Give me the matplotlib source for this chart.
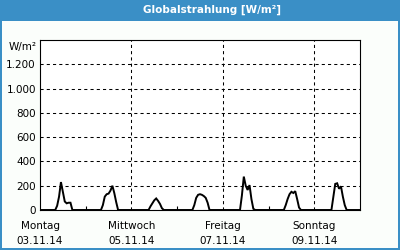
import matplotlib
matplotlib.use("Agg")
import matplotlib.pyplot as plt
from matplotlib.patches import Rectangle
from matplotlib.ticker import FixedLocator

# hourly global radiation, W/m², from 07:00 to 18:00 for each day
day_hours = list(range(7, 19))
mon = [0, 0, 35, 110, 230, 150, 70, 55, 60, 60, 0, 0]
tue = [0, 0, 40, 110, 130, 135, 160, 200, 140, 65, 0, 0]
wed = [0, 0, 0, 30, 55, 80, 95, 75, 50, 15, 0, 0]
thu = [0, 0, 40, 100, 125, 130, 125, 115, 100, 60, 0, 0]
fri = [0, 0, 0, 120, 275, 200, 165, 205, 90, 10, 0, 0]
sat = [0, 0, 40, 90, 130, 150, 140, 155, 90, 20, 0, 0]
sun = [0, 0, 0, 110, 215, 220, 175, 195, 110, 40, 0, 0]
days = [mon, tue, wed, thu, fri, sat, sun]

tick_days = [0, 2, 4, 6]
tick_labels = ["Montag\n03.11.14", "Mittwoch\n05.11.14", "Freitag\n07.11.14", "Sonntag\n09.11.14"]
y_ticks = [0, 200, 400, 600, 800, 1000, 1200]
y_labels = ["0", "200", "400", "600", "800", "1.000", "1.200"]

blue = "#3a8fc6"

# build hourly series over the whole week
xs, ys = [], []
for d, vals in enumerate(days):
    for h in range(24):
        xs.append(d + h / 24)
        if h in day_hours:
            ys.append(vals[day_hours.index(h)])
        else:
            ys.append(0)
xs.append(7)
ys.append(0)

fig = plt.figure(figsize=(4, 2.5), dpi=100)
fig.patch.set_facecolor(blue)
W, H = 400, 250
fig.patches.append(Rectangle((2 / W, 2 / H), 396 / W, 227 / H, transform=fig.transFigure,
                             facecolor="#fbfefb", edgecolor="none", zorder=-1))
fig.text(212 / W, 1 - 10 / H, "Globalstrahlung [W/m²]", color="white", fontsize=7.5,
         fontweight="bold", ha="center", va="center")

ax = fig.add_axes([40 / W, 40 / H, 320 / W, 170 / H])
ax.set_facecolor("white")
ax.plot(xs, ys, color="black", lw=1.4, solid_joinstyle="miter", zorder=3)

ax.set_xlim(0, 7)
ax.set_ylim(0, 1400)
ax.set_yticks(y_ticks)
ax.set_yticklabels(y_labels)
ax.set_xticks(tick_days)
ax.set_xticklabels(tick_labels, linespacing=1.6)
ax.xaxis.set_minor_locator(FixedLocator([1, 3, 5]))
ax.tick_params(axis="both", which="major", length=0, labelsize=7.5, colors="black")
ax.tick_params(axis="y", pad=3)
ax.tick_params(axis="x", pad=8)
ax.tick_params(axis="x", which="minor", direction="in", length=3, width=0.8)

ax.grid(axis="y", color="black", lw=0.75, ls=(0, (3, 3)))
ax.grid(axis="x", which="major", color="black", lw=0.75, ls=(0, (3, 3)))
ax.xaxis.get_gridlines()[0].set_visible(False)
for s in ax.spines.values():
    s.set_color("black")
    s.set_linewidth(0.8)

ax.text(-0.012, 1340, "W/m²", transform=ax.get_yaxis_transform(), ha="right", va="center",
        fontsize=7.5)

fig.savefig("out.png", dpi=100, facecolor=fig.get_facecolor())
